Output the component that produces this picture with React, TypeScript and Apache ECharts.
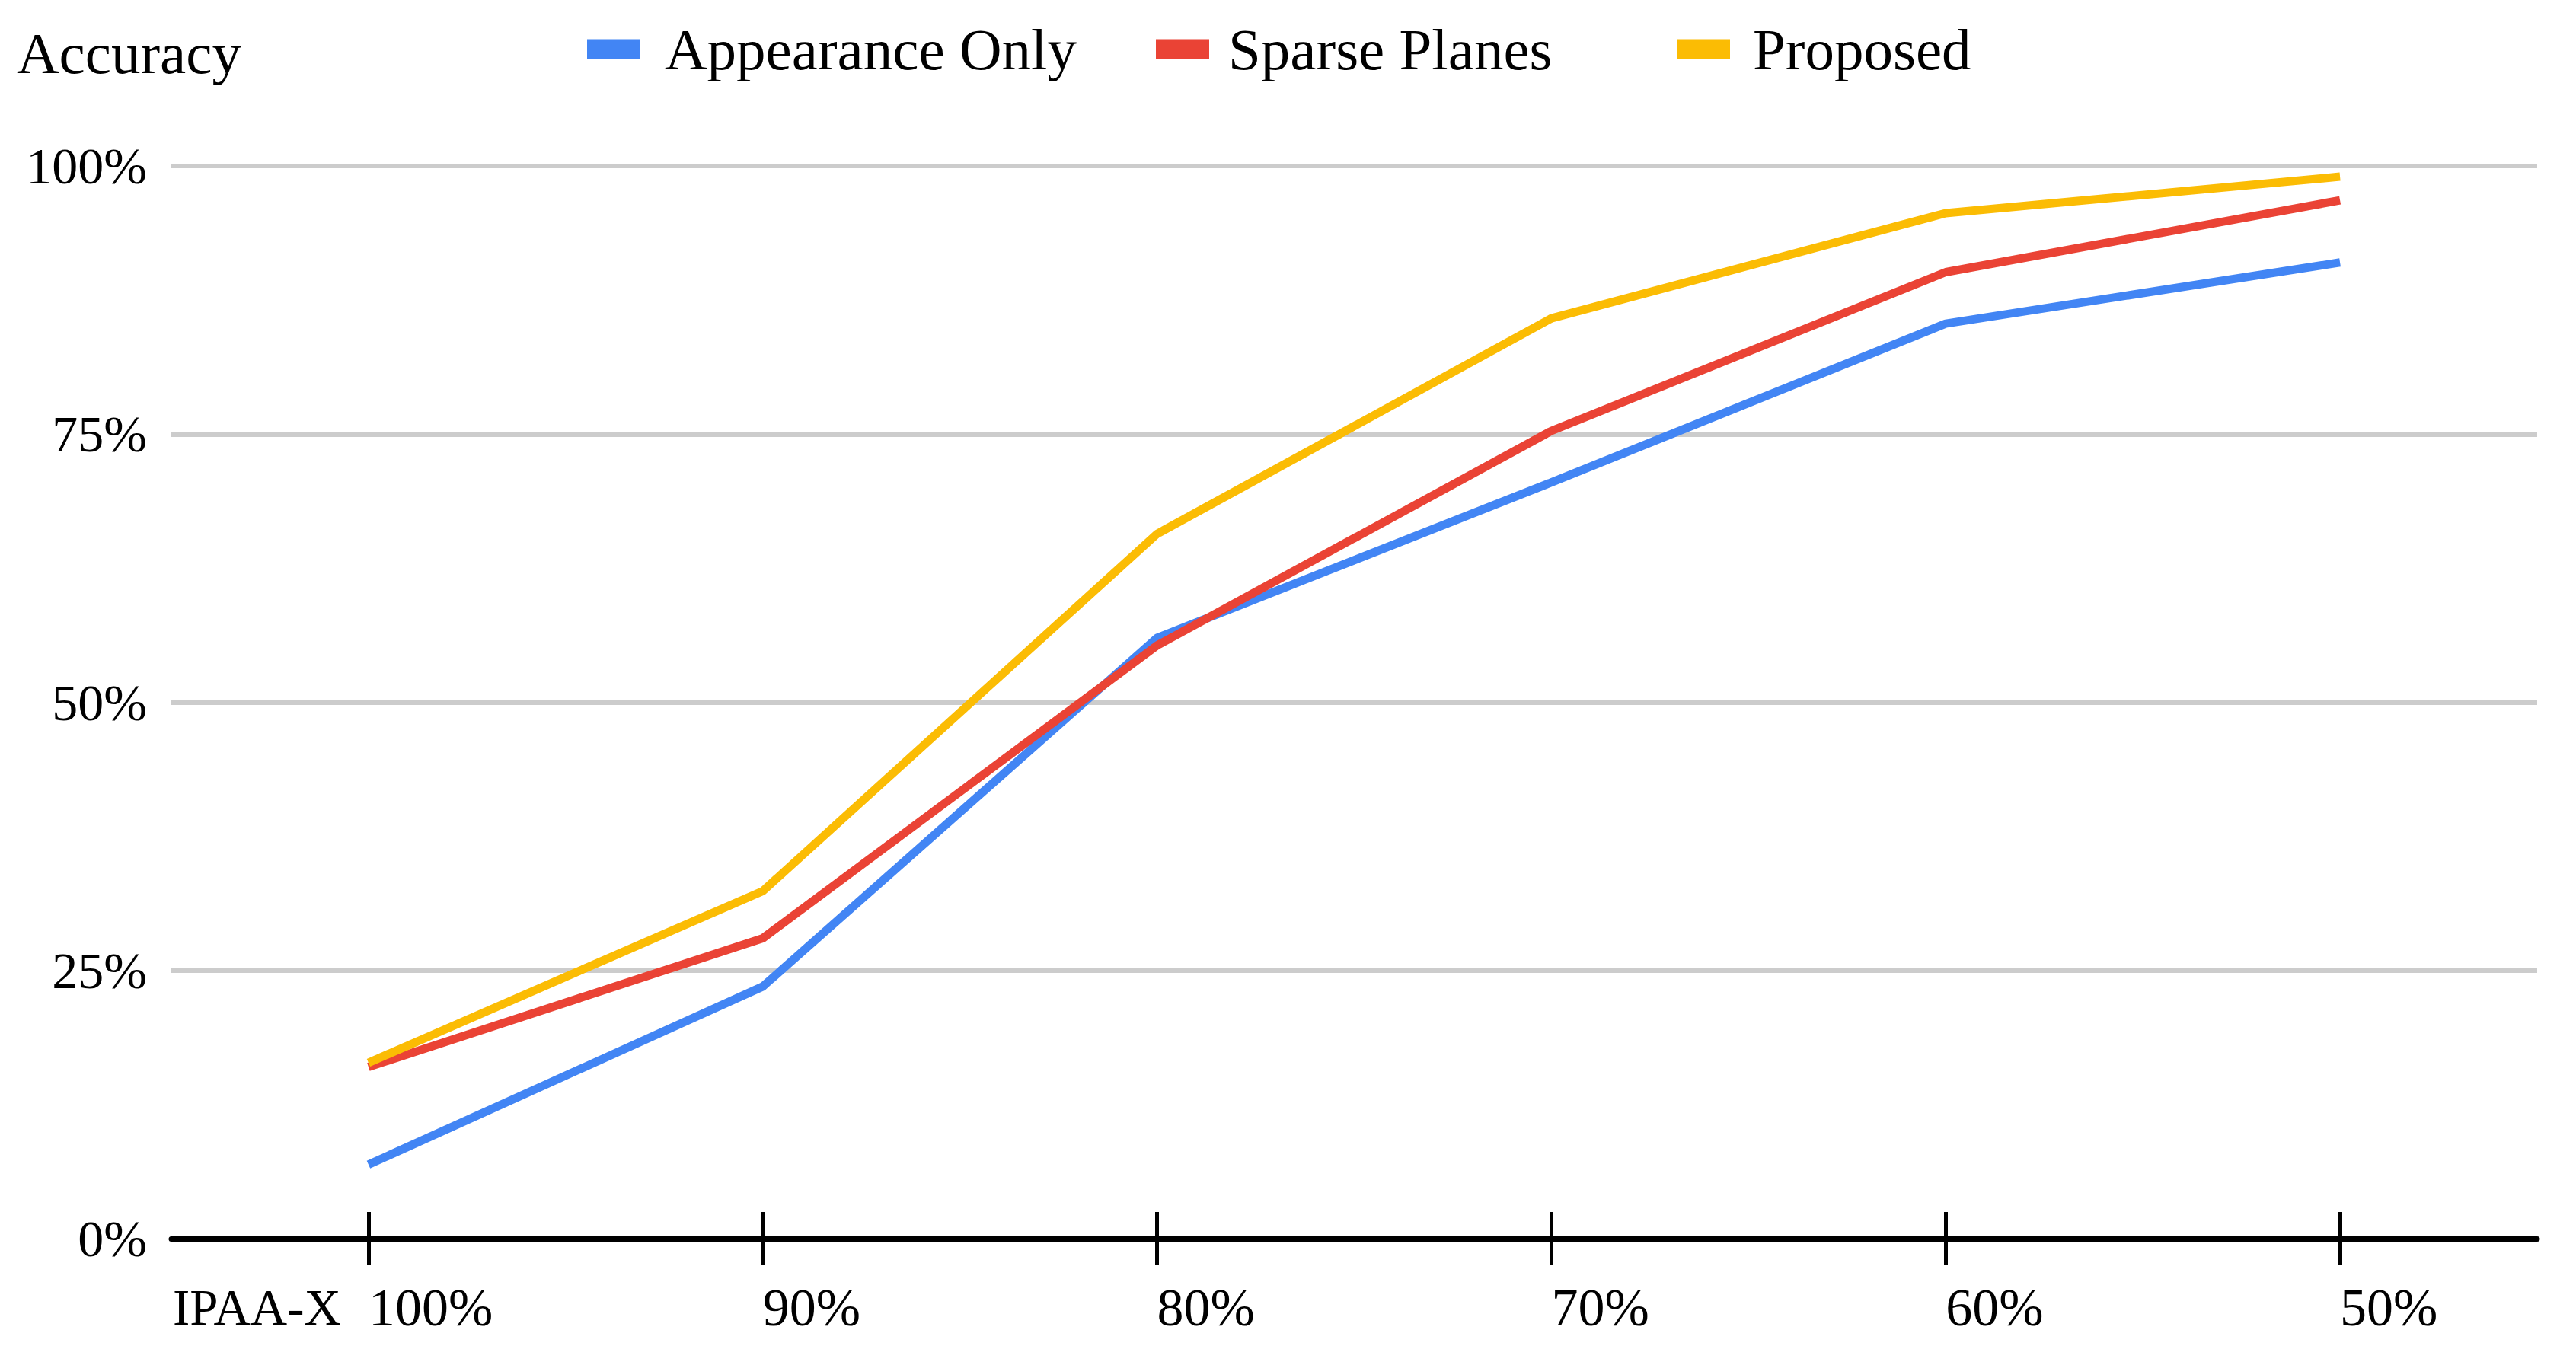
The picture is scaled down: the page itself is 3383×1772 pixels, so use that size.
import React, { useEffect, useRef } from "react";
import * as echarts from "echarts";

const categories = ["100%", "90%", "80%", "70%", "60%", "50%"];
const appearanceOnly = [6.9, 23.5, 56.0, 70.5, 85.3, 91.0];
const sparsePlanes = [16.0, 28.0, 55.3, 75.3, 90.1, 96.8];
const proposed = [16.4, 32.4, 65.7, 85.8, 95.6, 99.0];
const seriesNames = ["Appearance Only", "Sparse Planes", "Proposed"];
const seriesColors = ["#4285F4", "#EA4335", "#FBBC04"];
const yMin = 0;
const yMax = 100;
const yInterval = 25;

const FONT = "Liberation Serif";

export default function App() {
  const ref = useRef<HTMLDivElement>(null);
  useEffect(() => {
    document.body.style.margin = "0";
    const chart = echarts.init(ref.current!, null, { renderer: "svg" });
    const values = [appearanceOnly, sparsePlanes, proposed];
    const legendLefts = [771, 1518, 2202];
    const legendPads = [27, 20, 25];
    const tickStyle = { color: "#000", width: 5 };
    chart.setOption({
      animation: false,
      backgroundColor: "#fff",
      textStyle: { fontFamily: FONT, color: "#000" },
      title: {
        text: "Accuracy",
        left: 22,
        top: 31,
        padding: 0,
        textStyle: { fontFamily: FONT, fontSize: 77, fontWeight: "normal", color: "#000" },
      },
      legend: seriesNames.map((n, i) => ({
        data: [n],
        left: legendLefts[i],
        top: 26,
        padding: 0,
        icon: "rect",
        itemWidth: 70,
        itemHeight: 26,
        textStyle: { fontFamily: FONT, fontSize: 77, color: "#000", padding: [0, 0, 0, legendPads[i]] },
      })),
      grid: { left: 225, right: 51, top: 218, bottom: 145, containLabel: false },
      xAxis: [
        {
          type: "category",
          data: categories,
          boundaryGap: true,
          name: "IPAA-X",
          nameLocation: "start",
          nameGap: -2,
          nameMoveOverlap: false,
          nameTextStyle: {
            fontFamily: FONT,
            fontSize: 67,
            color: "#000",
            align: "left",
            verticalAlign: "top",
            padding: [56, 0, 0, 0],
          },
          axisLine: { show: true, lineStyle: { color: "#000", width: 7 } },
          axisTick: { show: true, alignWithLabel: true, length: 35, lineStyle: tickStyle },
          axisLabel: { fontFamily: FONT, fontSize: 70, color: "#000", align: "left", margin: 55 },
          splitLine: { show: false },
          z: 5,
        },
        {
          type: "category",
          data: categories,
          boundaryGap: true,
          position: "bottom",
          axisLine: { show: false },
          axisTick: { show: true, inside: true, alignWithLabel: true, length: 35, lineStyle: tickStyle },
          axisLabel: { show: false },
          splitLine: { show: false },
          z: 5,
        },
      ],
      yAxis: {
        type: "value",
        min: yMin,
        max: yMax,
        interval: yInterval,
        axisLine: { show: false },
        axisTick: { show: false },
        axisLabel: { fontFamily: FONT, fontSize: 68, color: "#000", margin: 32, formatter: "{value}%" },
        splitLine: { show: true, lineStyle: { color: "#cccccc", width: 6 } },
      },
      series: seriesNames.map((n, i) => ({
        name: n,
        type: "line",
        data: values[i],
        symbol: "none",
        showSymbol: false,
        color: seriesColors[i],
        lineStyle: { color: seriesColors[i], width: 11 },
        z: 2 + i,
      })),
    });
    return () => chart.dispose();
  }, []);
  return <div ref={ref} style={{ width: 3383, height: 1772 }} />;
}
